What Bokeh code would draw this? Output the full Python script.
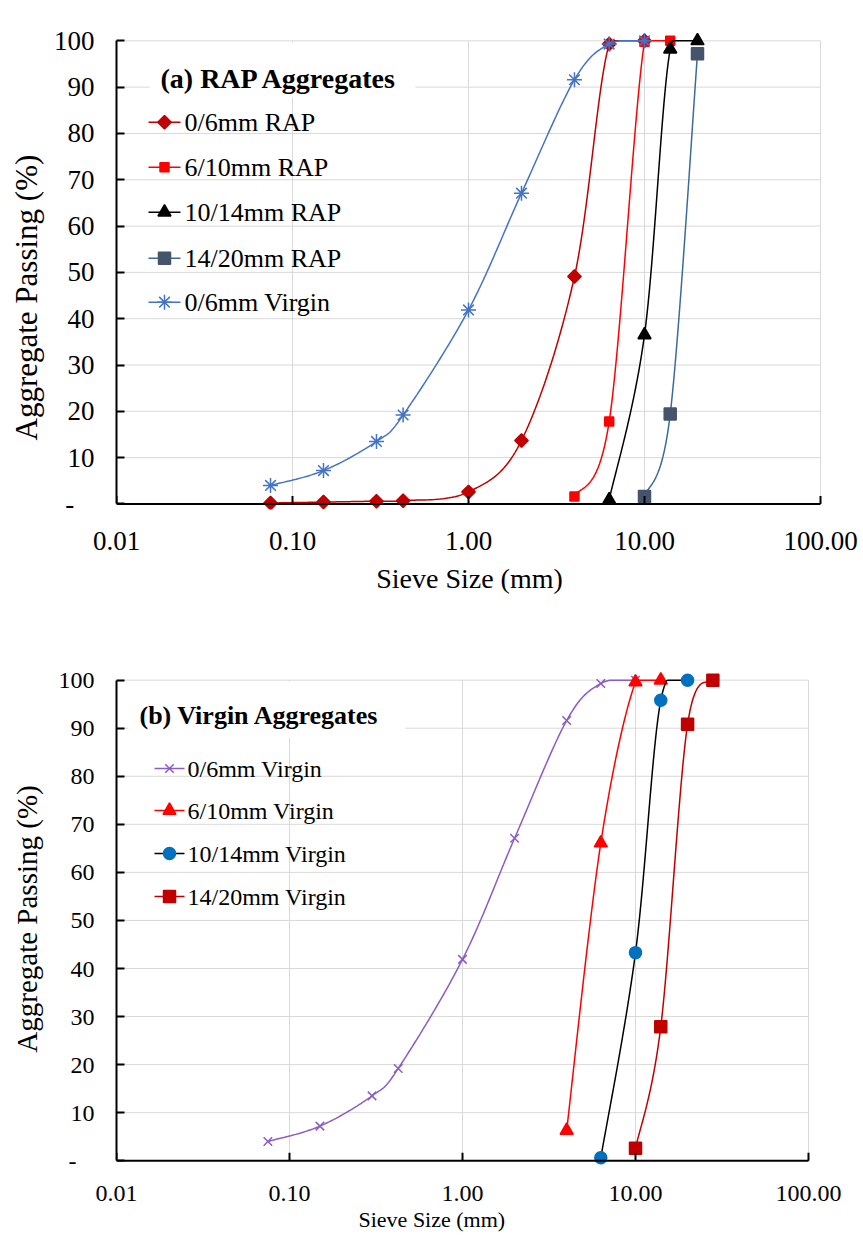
import math

from bokeh.core.properties import value
from bokeh.embed import file_html
from bokeh.layouts import column
from bokeh.models import FixedTicker, Range1d, Title
from bokeh.plotting import figure
from bokeh.resources import INLINE

FONT = "Liberation Serif"
NBSP = "\u00a0"
GRID = "#D9D9D9"

# ---- gradation data: sieve size (mm) vs. aggregate passing (%) ----
rap_06_size = [0.075, 0.15, 0.3, 0.425, 1.0, 2.0, 4.0, 6.3, 10.0]
rap_06_pass = [0.2, 0.4, 0.6, 0.7, 2.6, 13.7, 49.1, 99.3, 100.0]
rap_610_size = [4.0, 6.3, 10.0, 14.0]
rap_610_pass = [1.6, 17.8, 99.8, 100.0]
rap_1014_size = [6.3, 10.0, 14.0, 20.0]
rap_1014_pass = [0.9, 36.5, 98.2, 100.0]
rap_1420_size = [10.0, 14.0, 20.0]
rap_1420_pass = [1.6, 19.4, 97.2]

vir_06_size = [0.075, 0.15, 0.3, 0.425, 1.0, 2.0, 4.0, 6.3, 10.0]
vir_06_pass = [4.0, 7.2, 13.5, 19.2, 41.9, 67.1, 91.6, 99.3, 100.0]
vir_610_size = [4.0, 6.3, 10.0, 14.0]
vir_610_pass = [6.3, 66.1, 99.6, 100.0]
vir_1014_size = [6.3, 10.0, 14.0, 20.0]
vir_1014_pass = [0.6, 43.3, 95.8, 100.0]
vir_1420_size = [10.0, 14.0, 20.0, 28.0]
vir_1420_pass = [2.6, 27.9, 90.8, 100.0]

x_ticks = [0.01, 0.1, 1.0, 10.0, 100.0]
x_tick_labels = ["0.01", "0.10", "1.00", "10.00", "100.00"]
y_ticks = [0, 10, 20, 30, 40, 50, 60, 70, 80, 90, 100]
y_tick_labels = ["-", "10", "20", "30", "40", "50", "60", "70", "80", "90", "100"]

x_title = "Sieve Size (mm)"
y_title = "Aggregate Passing (%)"

# ---- series styling ----
rap_series = [
    dict(label="0/6mm RAP", x=rap_06_size, y=rap_06_pass, line="#C00000",
         marker="square", size=9.5, angle=math.pi / 4, fill="#C00000", edge="#C00000"),
    dict(label="6/10mm RAP", x=rap_610_size, y=rap_610_pass, line="#FF0000",
         marker="square", size=9, angle=0, fill="#FF0000", edge="#FF0000"),
    dict(label="10/14mm RAP", x=rap_1014_size, y=rap_1014_pass, line="black",
         marker="triangle", size=13, angle=0, fill="black", edge="black"),
    dict(label="14/20mm RAP", x=rap_1420_size, y=rap_1420_pass, line="#3C6A9A",
         marker="square", size=12, angle=0, fill="#44546A", edge="#44546A"),
    dict(label="0/6mm Virgin", x=vir_06_size, y=vir_06_pass, line="#4472C4",
         marker="asterisk", size=15, angle=0, fill="#4472C4", edge="#4472C4"),
]
virgin_series = [
    dict(label="0/6mm Virgin", x=vir_06_size, y=vir_06_pass, line="#8A5CC4",
         marker="x", size=12, angle=0, fill="#8A5CC4", edge="#8A5CC4"),
    dict(label="6/10mm Virgin", x=vir_610_size, y=vir_610_pass, line="#FF0000",
         marker="triangle", size=13, angle=0, fill="#FF0000", edge="#FF0000"),
    dict(label="10/14mm Virgin", x=vir_1014_size, y=vir_1014_pass, line="black",
         marker="circle", size=12, angle=0, fill="#0070C0", edge="#0070C0"),
    dict(label="14/20mm Virgin", x=vir_1420_size, y=vir_1420_pass, line="#C00000",
         marker="square", size=12, angle=0, fill="#C00000", edge="#C00000"),
]

# ---- panel geometry (pixels) ----
FRAME_LEFT = 116   # pixel of 0.01 mm
FRAME_RIGHT = 822  # common right frame edge of both panels
Y_RANGE = (-1.2, 101.8)  # a little room so markers on 0 % and 100 % are not clipped
TICK_LEN = 8  # px, inward tick marks

# axis titles: "axis" = centred axis label, "title" = Title placed with an offset
panel_a = dict(page_y=0, height=612, top=32, bottom=509, x100=820,
               tick_font="27px", x_standoff=22, y_standoff=22,
               xtitle=dict(mode="axis", font="28px", standoff=10),
               ytitle=dict(mode="title", font="31px", offset=69, standoff=10,
                           valign="top"),
               title="(a) RAP Aggregates", title_font="28px", title_xy=(160, 78),
               title_box=(149, 415, 42, 97), legend_font="26px",
               legend_rows=[121.7, 166.7, 211.7, 257.7, 301.7],
               legend_glyph=(148, 180), legend_text_x=184)
panel_b = dict(page_y=612, height=630, top=59, bottom=554, x100=808,
               tick_font="24px", x_standoff=19, y_standoff=22,
               xtitle=dict(mode="title", font="22px", offset=242, standoff=3,
                           valign="bottom"),
               ytitle=dict(mode="axis", font="29px", standoff=13),
               title="(b) Virgin Aggregates", title_font="26px", title_xy=(139, 715),
               title_box=(128, 405, 681, 737), legend_font="24px",
               legend_rows=[768, 810, 853, 896],
               legend_glyph=(154, 184), legend_text_x=187)


def x_range_of(g):
    """Log x range: 0.01 at the frame's left edge, 100 mm at pixel x100."""
    lo, hi = math.log10(x_ticks[0]), math.log10(x_ticks[-1])
    decade_px = (g["x100"] - FRAME_LEFT) / (hi - lo)
    return lo, hi + (FRAME_RIGHT - g["x100"]) / decade_px


def scales(g):
    lo, hi = x_range_of(g)
    ppd = (FRAME_RIGHT - FRAME_LEFT) / (hi - lo)
    ppu = (g["bottom"] - g["top"]) / (Y_RANGE[1] - Y_RANGE[0])
    return ppd, ppu


def to_data(g, sx, sy):
    """Convert page pixel coordinates into the panel's data coordinates."""
    lo, hi = x_range_of(g)
    fx = (sx - FRAME_LEFT) / (FRAME_RIGHT - FRAME_LEFT)
    fy = (g["bottom"] - (sy - g["page_y"])) / (g["bottom"] - g["top"])
    return 10 ** (lo + fx * (hi - lo)), Y_RANGE[0] + fy * (Y_RANGE[1] - Y_RANGE[0])


def smooth_curve(g, xs, ys, steps=24):
    """Bezier smoothing of a gradation line, computed in screen space;
    each piece stays between the two values it joins."""
    ppd, ppu = scales(g)
    pts = [(math.log10(x) * ppd, y * ppu) for x, y in zip(xs, ys)]
    n = len(pts)
    out = [pts[0]]
    for i in range(n - 1):
        p0 = pts[i - 1] if i > 0 else pts[i]
        p1, p2 = pts[i], pts[i + 1]
        p3 = pts[i + 2] if i + 2 < n else pts[i + 1]
        c1 = (p1[0] + (p2[0] - p0[0]) / 6, p1[1] + (p2[1] - p0[1]) / 6)
        c2 = (p2[0] - (p3[0] - p1[0]) / 6, p2[1] - (p3[1] - p1[1]) / 6)
        v_lo, v_hi = min(p1[1], p2[1]), max(p1[1], p2[1])
        for k in range(1, steps + 1):
            t = k / steps
            m = 1 - t
            bx = m ** 3 * p1[0] + 3 * m * m * t * c1[0] + 3 * m * t * t * c2[0] + t ** 3 * p2[0]
            by = m ** 3 * p1[1] + 3 * m * m * t * c1[1] + 3 * m * t * t * c2[1] + t ** 3 * p2[1]
            out.append((bx, min(max(by, v_lo), v_hi)))
    return [10 ** (u / ppd) for u, _ in out], [v / ppu for _, v in out]


def style_tick_labels(axis, g):
    axis.major_label_text_font = FONT
    axis.major_label_text_font_size = g["tick_font"]
    axis.major_label_text_color = "black"
    axis.minor_tick_line_color = None


def add_axis_title(p, axis, side, text, spec):
    if spec["mode"] == "axis":
        axis.axis_label = text
        axis.axis_label_text_font = FONT
        axis.axis_label_text_font_size = spec["font"]
        axis.axis_label_text_font_style = "normal"
        axis.axis_label_text_color = "black"
        axis.axis_label_standoff = spec["standoff"]
    else:
        p.add_layout(Title(text=text, align="left", offset=spec["offset"],
                           vertical_align=spec["valign"], standoff=spec["standoff"],
                           text_font=FONT, text_font_size=spec["font"],
                           text_font_style="normal", text_color="black"), side)


def make_panel(g, series):
    lo, hi = x_range_of(g)
    p = figure(width=863, height=g["height"], x_axis_type="log",
               x_range=Range1d(10 ** lo, 10 ** hi), y_range=Range1d(*Y_RANGE),
               output_backend="svg", toolbar_location=None,
               min_border_left=FRAME_LEFT, min_border_right=863 - FRAME_RIGHT,
               min_border_top=g["top"], min_border_bottom=g["height"] - g["bottom"])
    p.outline_line_color = None
    p.background_fill_color = "white"
    p.border_fill_color = "white"
    p.xgrid.visible = False
    p.ygrid.visible = False

    x_lo, x_hi = x_ticks[0], x_ticks[-1]
    y_lo, y_hi = y_ticks[0], y_ticks[-1]
    _, ppu = scales(g)

    # grid: horizontal lines at the y ticks, vertical lines at the decades
    # (the last one closes the frame on the right)
    hy = y_ticks[1:]
    p.segment(x0=[x_lo] * len(hy), y0=hy, x1=[x_hi] * len(hy), y1=hy,
              line_color=GRID, line_width=1)
    vx = x_ticks[1:]
    p.segment(x0=vx, y0=[y_lo] * len(vx), x1=vx, y1=[y_hi] * len(vx),
              line_color=GRID, line_width=1)

    # x axis: labels from the axis; base line and inward ticks are drawn on the 0 % line
    xa = p.xaxis[0]
    xa.ticker = FixedTicker(ticks=x_ticks)
    xa.major_label_overrides = dict(zip(x_ticks, x_tick_labels))
    xa.axis_line_color = None
    xa.major_tick_line_color = None
    xa.major_tick_in = 0
    xa.major_tick_out = 0
    xa.major_label_standoff = g["x_standoff"]
    style_tick_labels(xa, g)

    ya = p.yaxis[0]
    ya.ticker = FixedTicker(ticks=y_ticks)
    ya.bounds = (y_lo, y_hi)
    ya.major_label_overrides = {
        t: (lab + NBSP * 3 if lab == "-" else lab) for t, lab in zip(y_ticks, y_tick_labels)
    }
    ya.axis_line_color = "black"
    ya.axis_line_width = 2
    ya.major_tick_line_color = "black"
    ya.major_tick_line_width = 2
    ya.major_tick_in = TICK_LEN
    ya.major_tick_out = 0
    ya.major_label_standoff = g["y_standoff"]
    style_tick_labels(ya, g)

    add_axis_title(p, xa, "below", x_title, g["xtitle"])
    add_axis_title(p, ya, "left", y_title, g["ytitle"])

    # gradation curves and their markers
    for s in series:
        cx, cy = smooth_curve(g, s["x"], s["y"])
        p.line(cx, cy, line_color=s["line"], line_width=1.5)
        p.scatter(s["x"], s["y"], marker=s["marker"], size=s["size"], angle=s["angle"],
                  fill_color=s["fill"], line_color=s["edge"], line_width=1.5)

    # x axis base line and tick marks
    p.segment(x0=[x_lo], y0=[y_lo], x1=[x_hi], y1=[y_lo], line_color="black", line_width=2)
    p.segment(x0=x_ticks, y0=[y_lo] * len(x_ticks), x1=x_ticks,
              y1=[y_lo + TICK_LEN / ppu] * len(x_ticks), line_color="black", line_width=2)

    # legend: title on a white plate, entries over the grid
    l, r, t, b = g["title_box"]
    x_l, y_t = to_data(g, l, t)
    x_r, y_b = to_data(g, r, b)
    p.quad(left=[x_l], right=[x_r], top=[y_t], bottom=[y_b],
           fill_color="white", line_color=None)
    tx, ty = to_data(g, *g["title_xy"])
    p.text(x=[tx], y=[ty], text=[g["title"]], text_font=value(FONT),
           text_font_size=g["title_font"], text_font_style="bold",
           text_baseline="middle", text_align="left", text_color="black")

    gx0, gx1 = g["legend_glyph"]
    for s, row in zip(series, g["legend_rows"]):
        xa0, yy = to_data(g, gx0, row)
        xa1, _ = to_data(g, gx1, row)
        xm, _ = to_data(g, (gx0 + gx1) / 2, row)
        xt, _ = to_data(g, g["legend_text_x"], row)
        p.line([xa0, xa1], [yy, yy], line_color=s["line"], line_width=1.5)
        p.scatter([xm], [yy], marker=s["marker"], size=s["size"], angle=s["angle"],
                  fill_color=s["fill"], line_color=s["edge"], line_width=1.5)
        p.text(x=[xt], y=[yy], text=[s["label"]], text_font=value(FONT),
               text_font_size=g["legend_font"], text_baseline="middle",
               text_align="left", text_color="black")
    return p


fig_a = make_panel(panel_a, rap_series)
fig_b = make_panel(panel_b, virgin_series)
page = column(fig_a, fig_b, spacing=0)

open("out.html", "w").write(file_html(page, INLINE))
